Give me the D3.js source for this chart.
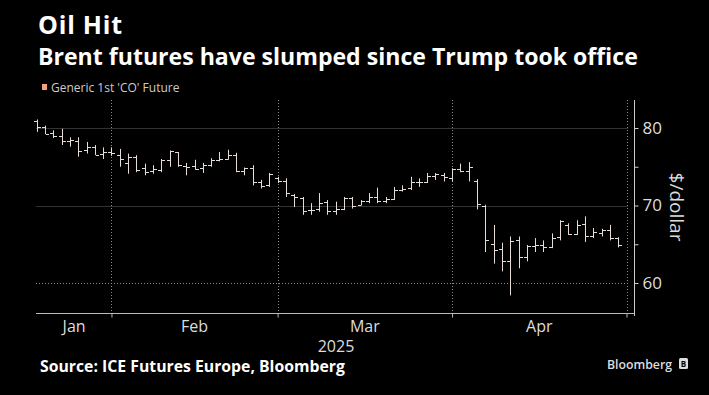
<!DOCTYPE html>
<html>
<head>
<meta charset="utf-8">
<script src="https://cdn.jsdelivr.net/npm/d3@7"></script>
<style>
html, body { margin: 0; padding: 0; background: #000; }
svg { display: block; }
</style>
</head>
<body>
<div id="chart"></div>
<script>
// trading days, Jan 20 - Apr 29 2025 (Good Friday closed)
const days = [
    "01-20","01-21","01-22","01-23","01-24","01-27","01-28","01-29","01-30","01-31",
    "02-03","02-04","02-05","02-06","02-07","02-10","02-11","02-12","02-13","02-14",
    "02-17","02-18","02-19","02-20","02-21","02-24","02-25","02-26","02-27","02-28",
    "03-03","03-04","03-05","03-06","03-07","03-10","03-11","03-12","03-13","03-14",
    "03-17","03-18","03-19","03-20","03-21","03-24","03-25","03-26","03-27","03-28","03-31",
    "04-01","04-02","04-03","04-04","04-07","04-08","04-09","04-10","04-11",
    "04-14","04-15","04-16","04-17","04-21","04-22","04-23","04-24","04-25","04-28","04-29"
];
const open = [
    80.9, 80.1, 79.4, 79.0, 78.3, 78.3, 77.1, 77.5, 76.6, 76.9,
    76.5, 75.5, 76.2, 74.8, 74.4, 74.6, 75.9, 76.9, 75.1, 75.1,
    74.9, 75.2, 75.9, 76.0, 76.5, 74.4, 74.8, 73.0, 72.6, 73.5,
    73.2, 71.4, 71.0, 69.4, 69.5, 70.4, 69.3, 69.6, 71.0, 70.1,
    70.6, 71.1, 70.6, 70.8, 72.0, 72.2, 73.0, 73.0, 73.8, 74.0, 73.6,
    74.7, 74.5, 73.2, 69.9, 65.0, 64.4, 62.8, 65.5, 63.4,
    64.8, 64.9, 64.7, 65.9, 67.5, 66.3, 67.6, 66.1, 66.5, 66.9, 65.8
];
const high = [
    81.1, 80.3, 79.7, 79.9, 78.8, 78.8, 78.2, 77.8, 77.5, 77.5,
    77.3, 76.7, 76.5, 75.4, 75.2, 76.0, 77.1, 76.9, 75.5, 75.9,
    75.5, 76.1, 76.9, 77.2, 76.8, 74.9, 75.2, 73.3, 74.2, 73.7,
    73.5, 71.5, 71.1, 70.3, 71.6, 70.7, 70.5, 71.1, 71.1, 70.7,
    71.6, 72.3, 71.1, 72.4, 72.6, 73.7, 73.5, 74.2, 74.2, 74.2, 74.8,
    75.4, 75.6, 73.4, 70.1, 67.5, 65.2, 66.0, 66.0, 64.9,
    65.8, 65.5, 66.4, 68.1, 67.7, 68.1, 68.6, 67.1, 67.0, 67.5, 65.9
];
const low = [
    79.5, 79.2, 78.7, 77.8, 77.6, 76.3, 76.7, 76.5, 76.0, 76.4,
    75.0, 74.1, 74.3, 73.9, 74.1, 74.3, 75.0, 75.0, 73.9, 74.6,
    74.2, 75.0, 75.7, 75.9, 74.3, 73.9, 72.6, 72.2, 72.4, 72.9,
    71.1, 69.8, 68.8, 68.8, 69.2, 68.8, 68.8, 69.4, 69.6, 70.0,
    70.3, 70.3, 70.3, 70.7, 71.8, 72.0, 72.4, 72.9, 73.3, 73.1, 73.1,
    74.3, 73.1, 69.5, 64.0, 62.5, 61.5, 58.4, 61.9, 62.8,
    64.0, 64.0, 64.5, 65.5, 66.2, 66.2, 65.3, 65.8, 66.0, 65.5, 64.6
];
const close = [
    80.15, 79.29, 79.0, 78.29, 78.5, 77.08, 77.49, 76.58, 76.87, 76.76,
    75.96, 76.2, 74.61, 74.29, 74.66, 75.87, 77.0, 75.18, 75.02, 74.74,
    75.22, 75.84, 76.04, 76.48, 74.43, 74.78, 73.02, 72.53, 74.04, 73.18,
    71.62, 71.04, 69.3, 69.46, 70.36, 69.28, 69.56, 70.95, 69.88, 70.58,
    71.07, 70.56, 70.78, 72.0, 72.16, 73.0, 73.02, 73.79, 74.03, 73.63, 74.74,
    74.49, 74.95, 70.14, 65.58, 64.21, 62.82, 65.48, 63.33, 64.76,
    64.88, 64.67, 65.85, 67.96, 66.26, 67.44, 66.12, 66.55, 66.87, 65.86, 64.9
];
const monthNames = ["Jan", "Feb", "Mar", "Apr"];
const monthEnds = ["01-31", "02-28", "03-31", "04-30"];
const yTicks = [60, 65, 70, 75, 80];
const yLabeled = [60, 70, 80];

const W = 709, H = 395;
const plotTop = 100, plotBottom = 313, plotLeft = 36, axisX = 634;

const svg = d3.select("#chart").append("svg")
    .attr("width", W)
    .attr("height", H)
    .style("background", "#000");

// x: one slot per trading day, plus the end-of-April slot
const x = d3.scalePoint()
    .domain(days.concat(["04-30"]))
    .range([36.7, 626.5]);

const y = d3.scaleLinear()
    .domain([60, 80])
    .range([283, 128]);

// fit a text to a target width
function fit(sel, w) {
    const fs = parseFloat(sel.attr("font-size"));
    const len = sel.node().getComputedTextLength();
    sel.attr("font-size", (fs * w / len).toFixed(2));
}

/* titles */
svg.append("text")
    .attr("x", 38).attr("y", 34)
    .attr("font-family", "Open Sans").attr("font-weight", 700)
    .attr("font-size", 25).attr("fill", "#fff")
    .attr("letter-spacing", 0.8)
    .text("Oil Hit");

const t2 = svg.append("text")
    .attr("x", 38).attr("y", 65)
    .attr("font-family", "Open Sans").attr("font-weight", 700)
    .attr("font-size", 20).attr("fill", "#fff")
    .text("Brent futures have slumped since Trump took office");
fit(t2, 600);

/* legend */
svg.append("rect")
    .attr("x", 42).attr("y", 84)
    .attr("width", 5).attr("height", 6)
    .attr("fill", "#f0a37c");
svg.append("text")
    .attr("x", 51).attr("y", 92)
    .attr("font-family", "Open Sans")
    .attr("font-size", 12).attr("fill", "#ccc")
    .text("Generic 1st 'CO' Future");

/* grid */
const grid = svg.append("g");
grid.selectAll(".hg")
    .data(yLabeled)
    .enter().append("line")
    .attr("x1", plotLeft).attr("x2", 628)
    .attr("y1", d => Math.round(y(d)) + 0.5)
    .attr("y2", d => Math.round(y(d)) + 0.5)
    .attr("stroke", d => d == 60 ? "#8a8a8a" : "#333")
    .attr("stroke-dasharray", d => d == 60 ? "1,2" : null);

grid.selectAll(".vg")
    .data(monthEnds)
    .enter().append("line")
    .attr("x1", d => Math.round(x(d)) + 0.5)
    .attr("x2", d => Math.round(x(d)) + 0.5)
    .attr("y1", plotTop).attr("y2", plotBottom)
    .attr("stroke", "#8a8a8a")
    .attr("stroke-dasharray", "1,2");

/* OHLC bars */
const ohlc = days.map((d, i) => ({ d: d, o: open[i], h: high[i], l: low[i], c: close[i] }));
const bars = svg.append("g")
    .attr("stroke", "#e8dcd6")
    .attr("stroke-width", 1);

bars.selectAll(".hl")
    .data(ohlc)
    .enter().append("line")
    .attr("x1", d => Math.round(x(d.d)) + 0.5)
    .attr("x2", d => Math.round(x(d.d)) + 0.5)
    .attr("y1", d => y(d.h))
    .attr("y2", d => y(d.l));
bars.selectAll(".op")
    .data(ohlc)
    .enter().append("line")
    .attr("x1", d => Math.round(x(d.d)) - 3)
    .attr("x2", d => Math.round(x(d.d)))
    .attr("y1", d => Math.round(y(d.o)) + 0.5)
    .attr("y2", d => Math.round(y(d.o)) + 0.5);
bars.selectAll(".cl")
    .data(ohlc)
    .enter().append("line")
    .attr("x1", d => Math.round(x(d.d)) + 1)
    .attr("x2", d => Math.round(x(d.d)) + 4)
    .attr("y1", d => Math.round(y(d.c)) + 0.5)
    .attr("y2", d => Math.round(y(d.c)) + 0.5);

/* x axis */
const xAxis = d3.axisBottom(x)
    .tickValues(monthEnds)
    .tickSize(4)
    .tickFormat("");
const gx = svg.append("g")
    .attr("transform", "translate(0," + (plotBottom + 0.5) + ")")
    .call(xAxis);
gx.select(".domain").remove();
gx.selectAll("line").attr("stroke", "#bbb");
gx.append("line")
    .attr("x1", plotLeft).attr("x2", axisX)
    .attr("stroke", "#bbb");

const starts = [days[0]].concat(monthEnds.slice(0, -1));
svg.selectAll(".mlab")
    .data(monthNames)
    .enter().append("text")
    .attr("x", (d, i) => (x(starts[i]) + x(monthEnds[i])) / 2)
    .attr("y", 332)
    .attr("text-anchor", "middle")
    .attr("font-family", "Open Sans")
    .attr("font-size", 16).attr("fill", "#ddd")
    .text(d => d);
svg.append("text")
    .attr("x", 336).attr("y", 352)
    .attr("text-anchor", "middle")
    .attr("font-family", "Open Sans")
    .attr("font-size", 16).attr("fill", "#ddd")
    .text("2025");

/* y axis, right */
const yAxis = d3.axisRight(y)
    .tickValues(yTicks)
    .tickSize(4)
    .tickPadding(4)
    .tickFormat(d => yLabeled.indexOf(d) >= 0 ? d : "");
const gy = svg.append("g")
    .attr("transform", "translate(" + (axisX + 0.5) + ",0)")
    .call(yAxis);
gy.select(".domain").remove();
gy.selectAll("line").attr("stroke", "#ccc");
gy.selectAll("text")
    .attr("font-family", "Open Sans")
    .attr("font-size", 17)
    .attr("fill", "#ddd");
gy.append("line")
    .attr("y1", plotTop).attr("y2", plotBottom + 3)
    .attr("stroke", "#ccc");

svg.append("text")
    .attr("transform", "translate(670,207) rotate(90)")
    .attr("text-anchor", "middle")
    .attr("font-family", "Open Sans")
    .attr("font-size", 19).attr("fill", "#ddd")
    .text("$/dollar");

/* footer */
const src = svg.append("text")
    .attr("x", 40).attr("y", 372)
    .attr("font-family", "Open Sans").attr("font-weight", 700)
    .attr("font-size", 14).attr("fill", "#fff")
    .text("Source: ICE Futures Europe, Bloomberg");
fit(src, 305);

const bb = svg.append("text")
    .attr("x", 607).attr("y", 369)
    .attr("font-family", "Open Sans").attr("font-weight", 600)
    .attr("font-size", 13).attr("fill", "#ddd")
    .text("Bloomberg");
fit(bb, 65);

svg.append("rect")
    .attr("x", 679).attr("y", 358)
    .attr("width", 9).attr("height", 11)
    .attr("rx", 1.5)
    .attr("fill", "#ddd");
svg.append("text")
    .attr("x", 683.5).attr("y", 367)
    .attr("text-anchor", "middle")
    .attr("font-family", "Open Sans").attr("font-weight", 700)
    .attr("font-size", 8).attr("fill", "#000")
    .text("B");
</script>
</body>
</html>
